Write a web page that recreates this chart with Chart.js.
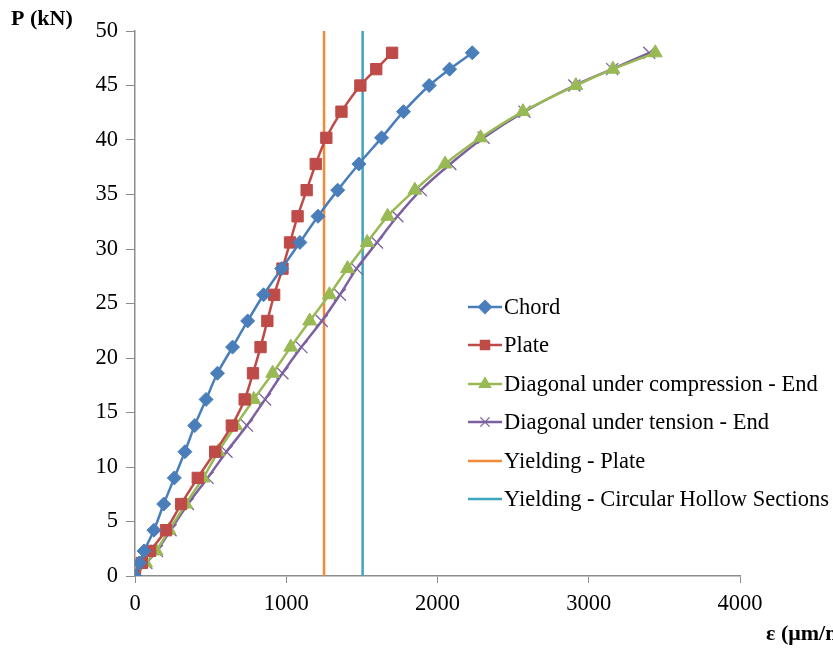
<!DOCTYPE html>
<html>
<head>
<meta charset="utf-8">
<script src="https://cdn.jsdelivr.net/npm/chart.js@4/dist/chart.umd.min.js"></script>
<style>
  body { margin: 0; background: #fff; }
  #wrap { width: 833px; height: 650px; }
</style>
</head>
<body>
<div id="wrap"><canvas id="grafico"></canvas></div>
<script>
const load = [0, 1.2, 2.3, 4.2, 6.6, 9.0, 11.4, 13.8, 16.2, 18.6, 21.0, 23.4, 25.8, 28.2, 30.6, 33.0, 35.4, 37.8, 40.2, 42.6, 45.0, 46.5, 48.0];
const chord = [0, 30, 60, 125, 190, 260, 330, 395, 470, 545, 645, 745, 850, 970, 1090, 1210, 1340, 1480, 1630, 1775, 1945, 2080, 2230];
const plate = [0, 45, 100, 205, 305, 415, 530, 640, 725, 780, 830, 875, 920, 975, 1025, 1075, 1135, 1195, 1265, 1365, 1490, 1595, 1700];
const compression = [0, 70, 140, 225, 335, 450, 550, 665, 785, 910, 1030, 1155, 1285, 1405, 1535, 1670, 1850, 2050, 2285, 2565, 2915, 3160, 3440];
const tension = [0, 75, 145, 235, 350, 480, 605, 740, 860, 975, 1100, 1235, 1355, 1465, 1600, 1735, 1890, 2085, 2305, 2575, 2905, 3155, 3400];
const yieldPlate = [1250, 1250];
const yieldChs = [1505, 1505];
const yieldLoad = [0, 50];

const seriesNames = [
  'Chord',
  'Plate',
  'Diagonal under compression - End',
  'Diagonal under tension - End',
  'Yielding - Plate',
  'Yielding - Circular Hollow Sections',
];

const serif = "'Liberation Serif', 'Times New Roman', serif";

function toPoints(xs, ys) {
  return xs.map((x, i) => ({ x: x, y: ys[i] }));
}

function makeSeries(label, xs, ys, color, style, radius) {
  return {
    label: label,
    data: toPoints(xs, ys),
    showLine: true,
    borderColor: color,
    backgroundColor: color,
    borderWidth: 2.5,
    tension: 0.3,
    pointStyle: style,
    pointRadius: radius,
    pointBorderWidth: style === 'crossRot' ? 1.3 : 1,
    pointBorderColor: color,
    pointBackgroundColor: color,
  };
}

const datasets = [
  makeSeries(seriesNames[0], chord, load, '#4A7EBB', 'rectRot', 7),
  makeSeries(seriesNames[1], plate, load, '#BE4B48', 'rect', 8),
  makeSeries(seriesNames[2], compression, load, '#98B954', 'triangle', 8),
  makeSeries(seriesNames[3], tension, load, '#7D60A0', 'crossRot', 8.5),
  makeSeries(seriesNames[4], yieldPlate, yieldLoad, '#F38A3A', false, 0),
  makeSeries(seriesNames[5], yieldChs, yieldLoad, '#3FA4BD', false, 0),
];

// legend + axis titles drawn by hand, like the original placement
const extras = {
  id: 'extras',
  afterDraw(chart) {
    const ctx = chart.ctx;
    ctx.save();
    ctx.font = 'bold 22px ' + serif;
    ctx.fillStyle = '#000';
    ctx.textBaseline = 'middle';
    ctx.textAlign = 'left';
    ctx.fillText('P (kN)', 11, 19);
    ctx.fillText('ε (μm/m)', 766, 634);

    const rowY = [307, 345, 384, 422, 461, 499];
    ctx.font = '22.5px ' + serif;
    chart.data.datasets.forEach((ds, i) => {
      const y = rowY[i];
      ctx.strokeStyle = ds.borderColor;
      ctx.lineWidth = 2.5;
      ctx.beginPath();
      ctx.moveTo(468, y);
      ctx.lineTo(502, y);
      ctx.stroke();
      if (ds.pointStyle) {
        ctx.fillStyle = ds.backgroundColor;
        ctx.lineWidth = 1.3;
        Chart.helpers.drawPoint(ctx, {
          pointStyle: ds.pointStyle,
          radius: 6.5,
          rotation: 0,
          borderWidth: 1.3,
        }, 485, y);
      }
      ctx.fillStyle = '#000';
      ctx.fillText(ds.label, 504, y + 1);
    });
    ctx.restore();
  },
};

new Chart(document.getElementById('grafico'), {
  type: 'scatter',
  data: { datasets: datasets },
  options: {
    responsive: true,
    maintainAspectRatio: false,
    animation: false,
    layout: { padding: { top: 31, right: 93, left: 0, bottom: 0 } },
    plugins: {
      legend: { display: false },
      tooltip: { enabled: false },
    },
    scales: {
      x: {
        type: 'linear',
        min: 0,
        max: 4000,
        ticks: {
          stepSize: 1000,
          color: '#000',
          padding: 8,
          font: { family: serif, size: 22.5 },
          callback: (v) => String(v),
        },
        grid: { drawOnChartArea: false, tickLength: 7, color: '#8C8C8C' },
        border: { color: '#8C8C8C', width: 1.5 },
        afterFit(scale) { scale.height = 74; },
      },
      y: {
        min: 0,
        max: 50,
        ticks: {
          stepSize: 5,
          color: '#000',
          padding: 8,
          font: { family: serif, size: 22.5 },
          callback: (v) => String(v),
        },
        grid: { drawOnChartArea: false, tickLength: 9, color: '#8C8C8C' },
        border: { color: '#8C8C8C', width: 1.5 },
        afterFit(scale) { scale.width = 135; },
      },
    },
  },
  plugins: [extras],
});
</script>
</body>
</html>
